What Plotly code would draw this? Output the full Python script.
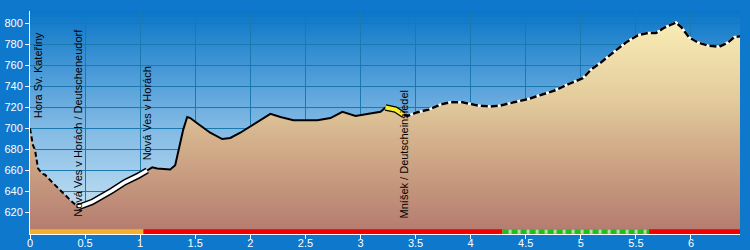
import base64
import plotly.graph_objects as go

# ---- data -------------------------------------------------------------
dist_km = [0.000, 0.027, 0.045, 0.073, 0.109, 0.136, 0.209, 0.291, 0.364, 0.427, 0.436,
           0.564, 0.745, 0.864, 0.982, 1.064, 1.109, 1.155, 1.273, 1.318, 1.364, 1.391,
           1.427, 1.455, 1.518, 1.636, 1.745, 1.818, 1.909, 1.982, 2.091, 2.182, 2.273,
           2.391, 2.518, 2.609, 2.727, 2.836, 2.955, 3.064, 3.182, 3.227, 3.318, 3.391,
           3.427, 3.500, 3.618, 3.727, 3.818, 3.927, 4.064, 4.182, 4.273, 4.391, 4.518,
           4.636, 4.755, 4.882, 5.018, 5.091, 5.182, 5.300, 5.409, 5.518, 5.609, 5.682,
           5.755, 5.864, 5.909, 5.982, 6.064, 6.155, 6.255, 6.336, 6.391, 6.445]
elev_m = [700, 684, 680, 662, 657, 656, 648, 639, 632, 626, 625,
          630, 641, 649, 655, 660, 663, 662, 661, 665, 685, 699,
          711, 710, 705, 696, 690, 691, 696, 701, 708, 714, 711,
          708, 708, 708, 710, 716, 712, 714, 716, 720, 718, 713,
          712, 715, 718, 723, 725, 725, 722, 721, 722, 725, 728,
          732, 736, 742, 748, 756, 763, 773, 782, 789, 791, 791,
          796, 801, 797, 787, 782, 779, 778, 782, 787, 788]

# route segments (road types) by distance
seg_start = [0.000, 0.436, 1.064, 3.227, 3.391]
seg_end = [0.436, 1.064, 3.227, 3.391, 6.445]
seg_kind = ["dash", "white", "solid", "yellow", "dashwhite"]

# surface bar
surf_start = [0.00, 1.03, 4.29, 5.62]
surf_end = [1.03, 4.29, 5.62, 6.445]
surf_kind = ["orange", "red", "green", "red"]

# places
place_names = ["Hora Sv. Kateřiny", "Nová Ves v Horách / Deutscheneudorf",
               "Nová Ves v Horách", "Mníšek / Deutscheinsiedel"]
place_km = [0.000, 0.436, 1.064, 3.391]

x_ticks = [0, 0.5, 1, 1.5, 2, 2.5, 3, 3.5, 4, 4.5, 5, 5.5, 6]
y_ticks = [620, 640, 660, 680, 700, 720, 740, 760, 780, 800]

# ---- styling ----------------------------------------------------------
Y_MIN, Y_MAX = 599.5, 812.0
X_MAX = dist_km[-1]
PAPER = "#0e78cc"
FONT = "Liberation Sans, Arial, sans-serif"

fig = go.Figure()

# terrain fill with vertical gradient
fig.add_trace(go.Scatter(
    x=dist_km, y=elev_m, mode="lines", line=dict(width=0, color="rgba(0,0,0,0)"),
    fill="tozeroy",
    fillgradient=dict(type="vertical", start=600, stop=805,
                      colorscale=[[0, "#b47a6e"], [0.45, "#d5b38d"],
                                  [0.62, "#e3cb9c"], [1, "#faeeb6"]]),
    hoverinfo="skip", showlegend=False))


def seg_xy(a, b):
    xs, ys = [], []
    for x, y in zip(dist_km, elev_m):
        if a - 1e-9 <= x <= b + 1e-9:
            xs.append(x)
            ys.append(y)
    return xs, ys


def add_line(xs, ys, color, width, dash="solid"):
    fig.add_trace(go.Scatter(x=xs, y=ys, mode="lines",
                             line=dict(color=color, width=width, dash=dash),
                             hoverinfo="skip", showlegend=False))


for a, b, k in zip(seg_start, seg_end, seg_kind):
    xs, ys = seg_xy(a, b)
    if k == "dash":
        add_line(xs, ys, "black", 2, "5px,3px")
    elif k == "white":
        add_line(xs, ys, "black", 6.5)
        add_line(xs, ys, "white", 3.5)
    elif k == "solid":
        add_line(xs, ys, "black", 2)
    elif k == "yellow":
        add_line(xs, ys, "black", 6.5)
        add_line(xs, ys, "#f6f02a", 4)
    elif k == "dashwhite":
        add_line(xs, ys, "white", 2.5)
        add_line(xs, ys, "black", 2.5, "7px,3px")

# surface bar along the bottom
bar_y = Y_MIN + 2.2
surf_colors = {"orange": "#f6b12c", "red": "#f00000", "green": "#1fbf1f"}
for a, b, k in zip(surf_start, surf_end, surf_kind):
    if k == "green":
        add_line([a, b], [bar_y, bar_y], "#b9dcae", 4)
        add_line([a, b], [bar_y, bar_y], surf_colors[k], 5, "6px,3px")
    else:
        add_line([a, b], [bar_y, bar_y], surf_colors[k], 5)

# place labels
label_bottom = [708, 614, 668, 612]
for name, km, yb in zip(place_names, place_km, label_bottom):
    fig.add_annotation(x=km, y=yb, xref="x", yref="y", text=name, textangle=-90,
                       showarrow=False, xanchor="left" if km == 0 else "center",
                       yanchor="bottom", font=dict(family=FONT, size=11, color="black"))

# gradient background for plot area
svg = ('<svg xmlns="http://www.w3.org/2000/svg" width="10" height="100" '
       'viewBox="0 0 10 100" preserveAspectRatio="none"><defs>'
       '<linearGradient id="g" x1="0" y1="0" x2="0" y2="1">'
       '<stop offset="0" stop-color="#0a76c8"/>'
       '<stop offset="0.5" stop-color="#7db7e3"/>'
       '<stop offset="1" stop-color="#d3e9f7"/>'
       '</linearGradient></defs><rect width="10" height="100" fill="url(#g)"/></svg>')
src = "data:image/svg+xml;base64," + base64.b64encode(svg.encode()).decode()
fig.add_layout_image(dict(source=src, xref="paper", yref="paper", x=0, y=1,
                          sizex=1, sizey=1, xanchor="left", yanchor="top",
                          sizing="stretch", layer="below"))

axis_common = dict(showline=True, linecolor="white", linewidth=1,
                   ticks="outside", tickcolor="white", ticklen=4, tickwidth=1,
                   tickfont=dict(family=FONT, size=11, color="white"),
                   showgrid=True, gridcolor="#1a7ab0", gridwidth=1, zeroline=False,
                   automargin=False)

fig.update_layout(
    width=750, height=250,
    margin=dict(l=30, r=10, t=11, b=16, autoexpand=False),
    paper_bgcolor=PAPER, plot_bgcolor=PAPER,
    showlegend=False,
    xaxis=dict(range=[0, X_MAX], tickvals=x_ticks, ticklabelstandoff=-5,
               ticktext=[f"{v:g}" for v in x_ticks], **axis_common),
    yaxis=dict(range=[Y_MIN, Y_MAX], tickvals=y_ticks, **axis_common),
)

fig.write_html("out.html")
